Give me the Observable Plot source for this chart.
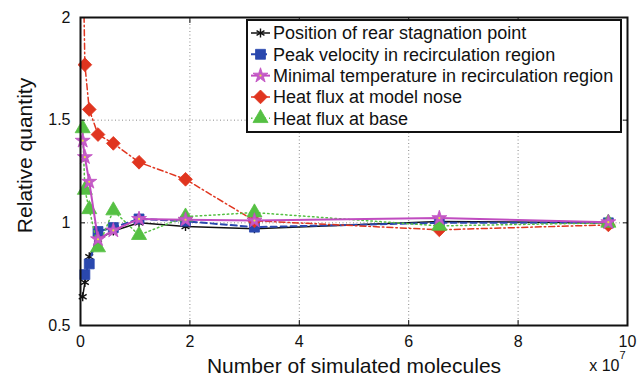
<!DOCTYPE html>
<html><head><meta charset="utf-8">
<script src="https://cdn.jsdelivr.net/npm/d3@7"></script>
<script src="https://cdn.jsdelivr.net/npm/@observablehq/plot@0.6"></script>
<style>
body{margin:0;background:#fff;font-family:"Liberation Sans",Arial,sans-serif;}
#chart{position:relative;width:639px;height:378px;}
#legend{position:absolute;left:246px;top:19px;}
</style></head><body><div id="chart"></div>
<script>
// Number of simulated molecules (×10^7)
const xValues = [0.04, 0.08, 0.16, 0.32, 0.6, 1.07, 1.92, 3.18, 6.56, 9.65];
const rearStagnation = [0.64, 0.71, 0.835, 0.92, 0.96, 1.0, 0.982, 0.971, 1.006, 1.0];
const peakVelocity = [null, 0.748, 0.80, 0.958, 0.977, 1.019, 1.008, 0.979, 1.0, 1.0];
const minTemperature = [1.40, 1.32, 1.20, 0.92, 0.963, 1.019, 1.015, 1.011, 1.023, 1.003];
const heatFluxNose = [2.4, 1.77, 1.552, 1.43, 1.387, 1.295, 1.212, 1.01, 0.966, 0.99];
const heatFluxBase = [1.46, 1.16, 1.066, 0.88, 1.06, 0.94, 1.03, 1.05, 0.985, 1.0];
const seriesNames = [
  "Position of rear stagnation point",
  "Peak velocity in recirculation region",
  "Minimal temperature in recirculation region",
  "Heat flux at model nose",
  "Heat flux at base"
];
const xTicks = [0, 2, 4, 6, 8, 10];
const yTicks = [0.5, 1, 1.5, 2];
const xLabel = "Number of simulated molecules";
const yLabel = "Relative quantity";
const xExponentBase = "x 10";
const xExponent = "7";

const styles = [
  {color:"#111111", fill:"#111111", dash:null, width:1.5, symbol:"asterisk", r:4.3},
  {color:"#2a48ae", fill:"#2a48ae", dash:"6,4", width:2, symbol:"square", r:5.6},
  {color:"#c04cc0", fill:"#c45cc8", dash:null, width:2, symbol:"star", r:4.7, dotCenter:"#e6e040"},
  {color:"#e0351f", fill:"#e0351f", dash:"6,3,1.5,3", width:1.5, symbol:"diamond2", r:6.2},
  {color:"#55c043", fill:"#55c043", dash:"1.5,3", width:1.5, symbol:"triangle", r:5.6}
];
const seriesValues = [rearStagnation, peakVelocity, minTemperature, heatFluxNose, heatFluxBase];
const drawOrder = [0, 1, 3, 4, 2];

const marks = [
  Plot.ruleX(xTicks.slice(1, -1), {stroke:"#8a8a8a", strokeDasharray:"1,2.5", strokeWidth:1}),
  Plot.ruleY(yTicks.slice(1, -1), {stroke:"#8a8a8a", strokeDasharray:"1,2.5", strokeWidth:1})
];
for (const k of drawOrder) {
  const st = styles[k];
  const data = xValues.map((x, i) => ({x, y: seriesValues[k][i]})).filter(d => d.y != null);
  marks.push(Plot.line(data, {x:"x", y:"y", stroke:st.color, strokeWidth:st.width, strokeDasharray:st.dash, clip:true}));
  const vis = data.filter(d => d.y <= 2);
  marks.push(Plot.dot(vis, {x:"x", y:"y", symbol:st.symbol, r:st.r, fill:st.symbol === "asterisk" ? "none" : st.fill,
    stroke:st.color, strokeWidth: st.symbol === "asterisk" ? 1.4 : 0.8}));
  if (st.dotCenter) marks.push(Plot.dot(vis, {x:"x", y:"y", r:1.1, fill:st.dotCenter, stroke:null}));
}
marks.push(
  Plot.frame({stroke:"#111", strokeWidth:2}),
  Plot.axisX(xTicks, {anchor:"bottom", tickSize:-5, tickPadding:15, label:null, tickFormat:d => String(d), fontSize:16}),
  Plot.axisX(xTicks, {anchor:"top", tickSize:-5, label:null, tickFormat:() => ""}),
  Plot.axisY(yTicks, {anchor:"left", tickSize:-5, tickPadding:15, label:null, tickFormat:d => String(d), fontSize:16}),
  Plot.axisY(yTicks, {anchor:"right", tickSize:-5, label:null, tickFormat:() => ""}),
  Plot.text([xLabel], {frameAnchor:"bottom", dy:47, textAnchor:"middle", lineAnchor:"bottom", fontSize:21}),
  Plot.text([yLabel], {frameAnchor:"left", dx:-55, dy:-16, rotate:-90, textAnchor:"middle", lineAnchor:"middle", fontSize:21}),
  Plot.text([xExponentBase], {frameAnchor:"bottom-right", dx:-8, dy:45, textAnchor:"end", lineAnchor:"bottom", fontSize:16}),
  Plot.text([xExponent], {frameAnchor:"bottom-right", dx:-2, dy:33, textAnchor:"end", lineAnchor:"bottom", fontSize:11})
);

const chart = Plot.plot({
  width:639, height:378,
  marginLeft:80, marginRight:12, marginTop:17, marginBottom:53,
  x:{domain:[0, 10]},
  y:{domain:[0.5, 2]},
  style:{fontFamily:"'Liberation Sans', Arial, sans-serif", fontSize:"16px", color:"#111", background:"#fff"},
  marks
});
const container = document.getElementById("chart");
container.appendChild(chart);

// Legend (inside the plot area, as in the reference)
const lw = 376, lh = 114;
const leg = d3.select(container).append("div").attr("id", "legend")
  .append("svg").attr("width", lw).attr("height", lh)
  .style("font-family", "'Liberation Sans', Arial, sans-serif");
leg.append("rect").attr("x", 1).attr("y", 1).attr("width", lw - 2).attr("height", lh - 2)
  .attr("fill", "#fff").attr("stroke", "#111").attr("stroke-width", 2);
const symMap = {asterisk:d3.symbolAsterisk, square:d3.symbolSquare, star:d3.symbolStar, diamond2:d3.symbolDiamond2, triangle:d3.symbolTriangle};
seriesNames.forEach((name, i) => {
  const st = styles[i];
  const cy = 14 + i * 21.3;
  const g = leg.append("g");
  g.append("line").attr("x1", 5).attr("x2", 24).attr("y1", cy).attr("y2", cy)
    .attr("stroke", st.color).attr("stroke-width", st.width).attr("stroke-dasharray", st.dash);
  g.append("path").attr("transform", `translate(14.5,${cy})`)
    .attr("d", d3.symbol(symMap[st.symbol], st.r * st.r * Math.PI)())
    .attr("fill", st.symbol === "asterisk" ? "none" : st.fill)
    .attr("stroke", st.color).attr("stroke-width", st.symbol === "asterisk" ? 1.4 : 0.8);
  if (st.dotCenter) g.append("circle").attr("cx", 14.5).attr("cy", cy).attr("r", 1.1).attr("fill", st.dotCenter);
  g.append("text").attr("x", 27).attr("y", cy).attr("dy", "0.35em").attr("font-size", 18).attr("fill", "#111").text(name);
});
</script>
</body></html>
